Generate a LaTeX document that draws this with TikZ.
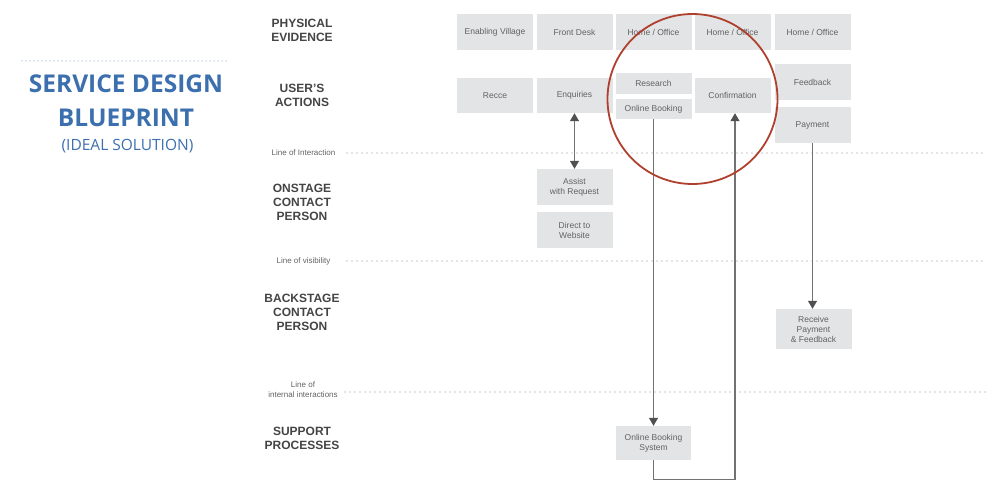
\documentclass[tikz,border=0pt]{standalone}
\usepackage{fontspec}
\setmainfont{Liberation Sans}
\newfontfamily\titlefont{Open Sans}
\usetikzlibrary{arrows.meta,calc}
\definecolor{boxfill}{HTML}{E3E4E6}
\definecolor{boxtext}{HTML}{626262}
\definecolor{headtext}{HTML}{444444}
\definecolor{linecol}{HTML}{727272}
\definecolor{arrowcol}{HTML}{505050}
\definecolor{dotcol}{HTML}{8E8E8E}
\definecolor{titleblue}{HTML}{3C6FAE}
\definecolor{circlered}{HTML}{B0402E}
\begin{document}
\begin{tikzpicture}[x=1pt,y=-1pt,
  card/.style={fill=boxfill, text=boxtext, font=\fontsize{8.5}{10}\selectfont, align=center, inner sep=0pt, minimum width=76pt, minimum height=36pt},
  head/.style={text=headtext, font=\fontsize{12}{14}\selectfont\bfseries, align=center, inner sep=0pt},
  linelabel/.style={text=boxtext, font=\fontsize{8}{10}\selectfont, align=center, inner sep=0pt},
  sepline/.style={dotcol, line width=1.1pt, line cap=round, dash pattern=on 0pt off 5pt},
  tip/.tip={Triangle[width=9pt,length=8pt,color=arrowcol]},
  flow/.style={linecol, line width=1.2pt, -tip},
  flowboth/.style={linecol, line width=1.2pt, tip-tip},
  titletext/.style={text=titleblue, inner sep=0pt, anchor=base}
]
\useasboundingbox (0,0) rectangle (1000,492);

% title
\coordinate (tl) at (22,61);
\coordinate (tr) at (229,61);
\draw[titleblue, line width=1pt, line cap=round, dash pattern=on 0pt off 4pt] (tl) -- (tr);
\node[titletext, font=\titlefont\fontsize{24.5}{28}\selectfont\bfseries] (t1) at (126,93) {SERVICE DESIGN};
\node[titletext, font=\titlefont\fontsize{24.5}{28}\selectfont\bfseries] (t2) at (126,126) {BLUEPRINT};
\node[titletext, font=\titlefont\fontsize{15.5}{20}\selectfont] (t3) at (127.5,150) {(IDEAL SOLUTION)};

% row headers
\node[head] (hpe) at (302,30.5) {PHYSICAL\\EVIDENCE};
\node[head] (hua) at (302,95.5) {USER'S\\ACTIONS};
\node[head] (hon) at (302,202) {ONSTAGE\\CONTACT\\PERSON};
\node[head] (hbk) at (302,312) {BACKSTAGE\\CONTACT\\PERSON};
\node[head] (hsp) at (302,438) {SUPPORT\\PROCESSES};

% separator lines
\node[linelabel] (lint) at (303.5,153) {Line of Interaction};
\node[linelabel] (lvis) at (303.5,261) {Line of visibility};
\node[linelabel] (lii) at (303,390) {Line of\\internal interactions};
\coordinate (e1) at (985,153);
\coordinate (e2) at (985,261);
\coordinate (e3) at (985,392);
\draw[sepline] (347,153) -- (e1);
\draw[sepline] (347,261) -- (e2);
\draw[sepline] (345,392) -- (e3);

% physical evidence
\node[card] (pe1) at (495,32) {Enabling Village};
\node[card] (pe2) at (574.5,32) {Front Desk};
\node[card] (pe3) at (653.5,32) {Home / Office};
\node[card] (pe4) at (732.5,32) {Home / Office};
\node[card] (pe5) at (812.5,32) {Home / Office};

% user's actions
\node[card, minimum height=35pt] (recce) at (495,95.5) {Recce};
\node[card, minimum height=35pt] (enq) at (574.5,95.5) {Enquiries};
\node[card, minimum height=21pt] (res) at (653.5,83.5) {Research};
\node[card, minimum height=20pt] (ob) at (653.5,109) {Online Booking};
\node[card, minimum height=35pt] (conf) at (732.5,95.5) {Confirmation};
\node[card] (fb) at (812.5,82) {Feedback};
\node[card] (pay) at (812.5,125) {Payment};

% onstage
\node[card] (assist) at (574.5,187) {Assist\\with Request};
\node[card] (direct) at (574.5,230) {Direct to\\Website};

% backstage
\node[card, minimum height=40pt] (recv) at (813.5,329) {Receive\\Payment\\\& Feedback};

% support
\node[card, minimum height=34pt, minimum width=75pt] (obs) at (653.5,443) {Online Booking\\System};

% connectors
\draw[flowboth] (enq.south) -- (assist.north);
\draw[flow] (ob.south) -- (ob.south |- obs.north);
\draw[flow] (pay.south) -- (pay.south |- recv.north);
\draw[flow] (obs.south) -- ++(0,19) -| ([xshift=2.5pt]conf.south);

% highlight circle
\node[draw=circlered, line width=1.8pt, circle, minimum size=170pt, inner sep=0pt] (hl) at (692.5,99) {};
\end{tikzpicture}
\end{document}
